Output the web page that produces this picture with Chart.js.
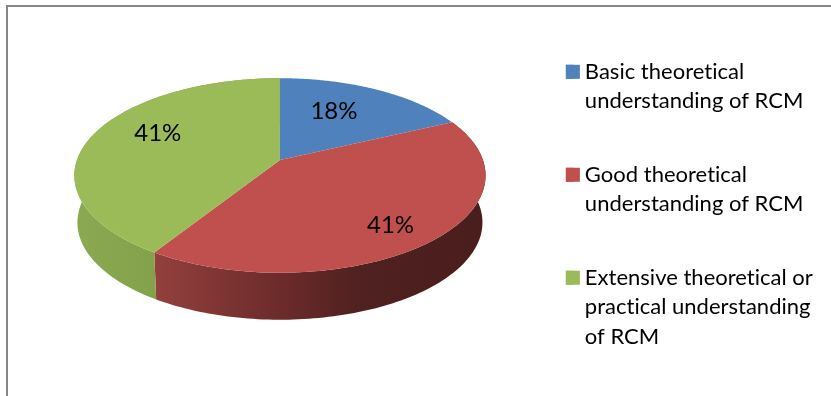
<!DOCTYPE html>
<html lang="en">
<head>
    <meta charset="UTF-8">
    <title>RCM understanding</title>
    <style>
        html, body { margin: 0; padding: 0; background: #fff; overflow: hidden; }
        #frame { position: absolute; left: 6px; top: 5px; width: 900px; height: 500px; border: 2px solid #868686; }
        #wrap { position: absolute; left: 0; top: 0; width: 831px; height: 396px; }
    </style>
    <script src="https://cdn.jsdelivr.net/npm/chart.js"></script>
</head>
<body>
    <div id="frame"></div>
    <div id="wrap"><canvas id="pieChart" width="831" height="396"></canvas></div>

    <script>
        const categories = [
            ['Basic theoretical', 'understanding of RCM'],
            ['Good theoretical', 'understanding of RCM'],
            ['Extensive theoretical or', 'practical understanding', 'of RCM']
        ];
        const shares = [18, 41, 41];
        const colors = ['#4f81bd', '#c0504d', '#9bbb59'];

        // Look of the tilted pie
        const tilt = { squash: 0.467, perspective: -0.159, depth: 47, lift: -43, baseWidth: 0.985 };
        const wallStops = [
            null,
            [[0, '#93403e'], [0.38, '#6c2b2a'], [0.62, '#4f2120'], [1, '#4a1e1d']],
            [[0, '#8aa950'], [1, '#7a9642']]
        ];
        const labelShift = [[-11, -1], [16, 15], [1, -10]];
        const legendBox = 14;

        // Maps an angle of a library arc onto the tilted disc
        function rim(arc, angle, fraction, drop) {
            const u = fraction * Math.cos(angle);
            const v = fraction * Math.sin(angle);
            const d = 1 + tilt.perspective * v;
            const width = drop ? tilt.baseWidth : 1;
            return {
                x: arc.x + width * arc.outerRadius * u / d,
                y: arc.y + tilt.lift + arc.outerRadius * tilt.squash * v / d + drop
            };
        }

        function rimPoints(arc, from, to, drop) {
            const steps = 120;
            const pts = [];
            for (let i = 0; i <= steps; i++) {
                pts.push(rim(arc, from + (to - from) * i / steps, 1, drop));
            }
            return pts;
        }

        const tiltedPie = {
            id: 'tiltedPie',
            beforeDraw(chart) {
                // no "ti" ligatures, the original font has none
                chart.ctx.letterSpacing = '0.01px';
            },
            // Replaces the flat arcs with a tilted version of the same arcs
            beforeDatasetsDraw(chart) {
                const ctx = chart.ctx;
                const arcs = chart.getDatasetMeta(0).data;

                arcs.forEach((arc, i) => {
                    if (!wallStops[i]) return;
                    const top = rimPoints(arc, arc.startAngle, arc.endAngle, 0);
                    const bottom = rimPoints(arc, arc.startAngle, arc.endAngle, tilt.depth);
                    const xs = top.map(p => p.x);
                    const grad = ctx.createLinearGradient(Math.min(...xs), 0, Math.max(...xs), 0);
                    wallStops[i].forEach(s => grad.addColorStop(s[0], s[1]));
                    // one path of small quads, so the wall keeps its edge round the widest point
                    ctx.beginPath();
                    for (let n = 0; n < top.length - 1; n++) {
                        ctx.moveTo(top[n].x, top[n].y);
                        ctx.lineTo(top[n + 1].x, top[n + 1].y);
                        ctx.lineTo(bottom[n + 1].x, bottom[n + 1].y);
                        ctx.lineTo(bottom[n].x, bottom[n].y);
                        ctx.closePath();
                    }
                    ctx.fillStyle = grad;
                    ctx.fill();
                });

                arcs.forEach((arc, i) => {
                    ctx.beginPath();
                    ctx.moveTo(arc.x, arc.y + tilt.lift);
                    rimPoints(arc, arc.startAngle, arc.endAngle, 0).forEach(p => ctx.lineTo(p.x, p.y));
                    ctx.closePath();
                    ctx.fillStyle = colors[i];
                    ctx.fill();
                });

                ctx.save();
                ctx.fillStyle = '#000';
                ctx.font = '24px Lato';
                ctx.textAlign = 'center';
                ctx.textBaseline = 'middle';
                arcs.forEach((arc, i) => {
                    const p = rim(arc, (arc.startAngle + arc.endAngle) / 2, 0.65, 0);
                    ctx.fillText(shares[i] + '%', p.x + labelShift[i][0], p.y + labelShift[i][1]);
                });
                ctx.restore();
                return false;
            },
            // Legend text sits closer to the box than Chart.js allows, so the box is widened here
            afterDraw(chart) {
                const ctx = chart.ctx;
                chart.legend.legendItems.forEach((item, i) => {
                    const hit = chart.legend.legendHitBoxes[i];
                    ctx.fillStyle = item.fillStyle;
                    ctx.fillRect(hit.left, hit.top + 4, legendBox, legendBox);
                });
            }
        };

        new Chart(document.getElementById('pieChart'), {
            type: 'pie',
            data: {
                labels: categories,
                datasets: [{
                    data: shares,
                    backgroundColor: colors,
                    borderWidth: 0,
                    radius: 203
                }]
            },
            options: {
                responsive: false,
                animation: false,
                layout: { padding: { left: 38, right: 8, top: 10, bottom: -10 } },
                plugins: {
                    tooltip: { enabled: false },
                    legend: {
                        position: 'right',
                        labels: {
                            boxWidth: 8,
                            boxHeight: 14,
                            padding: 44,
                            color: '#000',
                            font: { family: 'Lato', size: 22, lineHeight: 1.34 }
                        }
                    }
                }
            },
            plugins: [tiltedPie]
        });
    </script>
</body>
</html>
